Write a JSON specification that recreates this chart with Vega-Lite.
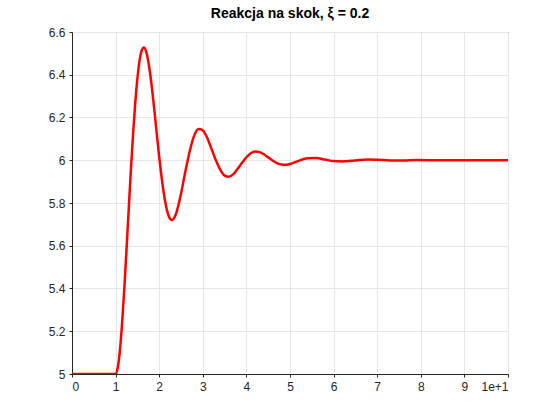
{
  "$schema": "https://vega.github.io/schema/vega-lite/v6.json",
  "width": 436,
  "height": 342,
  "autosize": {"type": "none"},
  "padding": {"left": 72, "top": 32, "right": 52, "bottom": 46},
  "background": "#ffffff",
  "title": {"text": "Reakcja na skok, ξ = 0.2", "font": "Liberation Sans", "fontSize": 14, "fontWeight": "bold", "color": "#000000", "offset": 5},
  "data": {"values": [
    {"t": 0, "y": 5}, {"t": 1, "y": 5}, {"t": 1.05, "y": 5.030}, {"t": 1.1, "y": 5.113}, {"t": 1.15, "y": 5.241},
    {"t": 1.2, "y": 5.400}, {"t": 1.25, "y": 5.581}, {"t": 1.3, "y": 5.768}, {"t": 1.35, "y": 5.951}, {"t": 1.4, "y": 6.120},
    {"t": 1.45, "y": 6.266}, {"t": 1.5, "y": 6.382}, {"t": 1.55, "y": 6.466}, {"t": 1.6, "y": 6.514}, {"t": 1.65, "y": 6.528},
    {"t": 1.7, "y": 6.509}, {"t": 1.75, "y": 6.462}, {"t": 1.8, "y": 6.393}, {"t": 1.85, "y": 6.308}, {"t": 1.9, "y": 6.213},
    {"t": 1.95, "y": 6.113}, {"t": 2.0, "y": 6.016}, {"t": 2.05, "y": 5.928}, {"t": 2.1, "y": 5.853}, {"t": 2.15, "y": 5.793},
    {"t": 2.2, "y": 5.750}, {"t": 2.25, "y": 5.726}, {"t": 2.3, "y": 5.721}, {"t": 2.35, "y": 5.733}, {"t": 2.4, "y": 5.759},
    {"t": 2.5, "y": 5.843}, {"t": 2.6, "y": 5.947}, {"t": 2.7, "y": 6.042}, {"t": 2.8, "y": 6.114}, {"t": 2.9, "y": 6.146},
    {"t": 3.0, "y": 6.140}, {"t": 3.1, "y": 6.105}, {"t": 3.2, "y": 6.053}, {"t": 3.3, "y": 6.000}, {"t": 3.4, "y": 5.956},
    {"t": 3.5, "y": 5.928}, {"t": 3.6, "y": 5.923}, {"t": 3.7, "y": 5.935}, {"t": 3.8, "y": 5.960}, {"t": 3.9, "y": 5.988},
    {"t": 4.0, "y": 6.014}, {"t": 4.1, "y": 6.033}, {"t": 4.2, "y": 6.041}, {"t": 4.3, "y": 6.038}, {"t": 4.4, "y": 6.028},
    {"t": 4.5, "y": 6.0135}, {"t": 4.6, "y": 5.9985}, {"t": 4.7, "y": 5.9866}, {"t": 4.8, "y": 5.9796}, {"t": 4.9, "y": 5.9784},
    {"t": 5.0, "y": 5.9823}, {"t": 5.2, "y": 5.9973}, {"t": 5.4, "y": 6.0095}, {"t": 5.6, "y": 6.0105}, {"t": 5.8, "y": 6.0033},
    {"t": 6.0, "y": 5.996}, {"t": 6.2, "y": 5.9941}, {"t": 6.4, "y": 5.9972}, {"t": 6.6, "y": 6.0014}, {"t": 6.8, "y": 6.0032},
    {"t": 7.0, "y": 6.002}, {"t": 7.3, "y": 5.999}, {"t": 7.6, "y": 5.9985}, {"t": 7.9, "y": 6.001}, {"t": 8.5, "y": 6.0},
    {"t": 10, "y": 6.0}
  ]},
  "mark": {"type": "line", "color": "#ff0000", "strokeWidth": 2.5, "interpolate": "monotone", "clip": true},
  "encoding": {
    "x": {"field": "t", "type": "quantitative", "scale": {"domain": [0, 10], "nice": false},
      "axis": {"values": [0,1,2,3,4,5,6,7,8,9,10], "format": "~g", "title": null}},
    "y": {"field": "y", "type": "quantitative", "scale": {"domain": [5, 6.6], "nice": false, "zero": false},
      "axis": {"values": [5,5.2,5.4,5.6,5.8,6,6.2,6.4,6.6], "format": "~g", "title": null}}
  },
  "config": {
    "view": {"stroke": "#262626", "strokeWidth": 1, "fill": "#ffffff"},
    "axis": {"labelFont": "Liberation Sans", "labelFontSize": 12, "labelColor": "#262626",
      "domainColor": "#262626", "tickColor": "#262626", "tickSize": 3,
      "gridColor": "#e6e6e6", "gridOpacity": 1, "labelPadding": 4}
  }
}
